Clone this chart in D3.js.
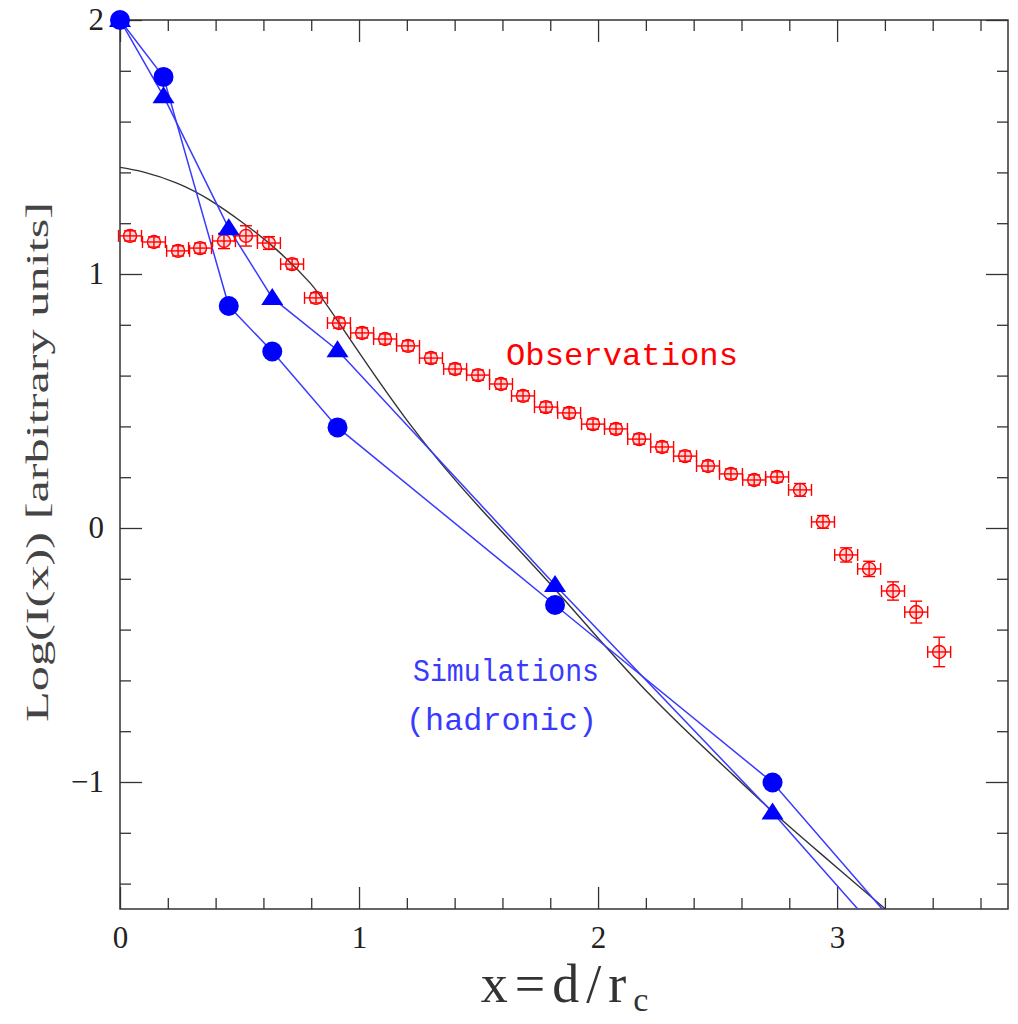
<!DOCTYPE html>
<html>
<head>
<meta charset="utf-8">
<script src="https://cdn.jsdelivr.net/npm/d3@7"></script>
<style>
  body { margin: 0; background: #fff; }
</style>
</head>
<body>
<svg id="chart" width="1018" height="1024"></svg>
<script>
// simulated profiles (hadronic), x in units of r_c
var simX = [0, 0.182, 0.455, 0.637, 0.91, 1.82, 2.73, 3.64];
var simCircleY = [2.0, 1.776, 0.874, 0.695, 0.396, -0.303, -1.002, -1.99];
var simTriangleY = [2.0, 1.70, 1.18, 0.906, 0.70, -0.224, -1.12, -2.09];

// observed profile with error bars
var obsX = [0.042, 0.142, 0.243, 0.335, 0.435, 0.527, 0.623, 0.720, 0.820, 0.916,
            1.013, 1.109, 1.205, 1.301, 1.402, 1.498, 1.594, 1.686, 1.782, 1.879,
            1.979, 2.075, 2.172, 2.268, 2.364, 2.460, 2.556, 2.653, 2.749, 2.845,
            2.941, 3.038, 3.134, 3.234, 3.331, 3.427];
var obsY = [1.150, 1.126, 1.091, 1.102, 1.130, 1.150, 1.122, 1.039, 0.906, 0.807,
            0.768, 0.744, 0.717, 0.669, 0.626, 0.602, 0.567, 0.520, 0.476, 0.453,
            0.409, 0.390, 0.350, 0.319, 0.283, 0.244, 0.213, 0.189, 0.201, 0.150,
            0.024, -0.106, -0.161, -0.248, -0.331, -0.488];
var obsYErr = [0.02, 0.02, 0.02, 0.02, 0.03, 0.04, 0.025, 0.02, 0.02, 0.02,
               0.02, 0.02, 0.02, 0.02, 0.02, 0.02, 0.02, 0.02, 0.02, 0.02,
               0.02, 0.02, 0.02, 0.02, 0.02, 0.02, 0.02, 0.02, 0.02, 0.025,
               0.025, 0.028, 0.03, 0.036, 0.043, 0.058];
var obsXErr = 0.048;

// model curve
var modelX = [0.0, 0.096, 0.238, 0.376, 0.515, 0.657, 0.795, 0.916, 1.2,
              1.506, 1.828, 2.205, 2.565, 2.732, 2.929, 3.197, 3.30];
var modelY = [1.42, 1.402, 1.358, 1.291, 1.201, 1.094, 0.965, 0.808, 0.425,
              0.079, -0.25, -0.645, -0.972, -1.118, -1.280, -1.496, -1.58];

var xMajor = [0, 1, 2, 3];
var xMinor = [0.2, 0.4, 0.6, 0.8, 1.2, 1.4, 1.6, 1.8, 2.2, 2.4, 2.6, 2.8, 3.2, 3.4, 3.6];
var yMajor = [-1, 0, 1, 2];
var yMinor = [-1.4, -1.2, -0.8, -0.6, -0.4, -0.2, 0.2, 0.4, 0.6, 0.8, 1.2, 1.4, 1.6, 1.8];

var svg = d3.select("#chart");
var mL = 120, mR = 1008, mT = 20, mB = 909;

var x = d3.scaleLinear().domain([0, 3.715]).range([mL, mR]);
var y = d3.scaleLinear().domain([-1.5, 2]).range([mB, mT]);

svg.append("defs").append("clipPath").attr("id", "plotclip")
  .append("rect")
  .attr("x", mL).attr("y", mT)
  .attr("width", mR - mL).attr("height", mB - mT);

// axes: ticks point inward on all four sides
function addAxis(axis, transform, labels) {
  var g = svg.append("g").attr("transform", transform).call(axis);
  g.select(".domain").remove();
  g.selectAll("line").attr("stroke", "#333").attr("stroke-width", 1.3);
  g.attr("font-family", "'Liberation Serif', 'DejaVu Serif', serif").attr("font-size", 31);
  g.selectAll("text").attr("fill", "#222");
  if (!labels) g.selectAll("text").remove();
  return g;
}

addAxis(d3.axisBottom(x).tickValues(xMajor).tickSize(-22).tickPadding(17).tickFormat(d3.format("d")),
        "translate(0," + mB + ")", true);
addAxis(d3.axisBottom(x).tickValues(xMinor).tickSize(-11).tickFormat(""), "translate(0," + mB + ")", false);
addAxis(d3.axisTop(x).tickValues(xMajor).tickSize(-22).tickFormat(""), "translate(0," + mT + ")", false);
addAxis(d3.axisTop(x).tickValues(xMinor).tickSize(-11).tickFormat(""), "translate(0," + mT + ")", false);
addAxis(d3.axisLeft(y).tickValues(yMajor).tickSize(-22).tickPadding(16).tickFormat(d3.format("d")),
        "translate(" + mL + ",0)", true);
addAxis(d3.axisLeft(y).tickValues(yMinor).tickSize(-11).tickFormat(""), "translate(" + mL + ",0)", false);
addAxis(d3.axisRight(y).tickValues(yMajor).tickSize(-22).tickFormat(""), "translate(" + mR + ",0)", false);
addAxis(d3.axisRight(y).tickValues(yMinor).tickSize(-11).tickFormat(""), "translate(" + mR + ",0)", false);

svg.append("rect")
  .attr("x", mL).attr("y", mT)
  .attr("width", mR - mL).attr("height", mB - mT)
  .attr("fill", "none")
  .attr("stroke", "#333")
  .attr("stroke-width", 1.5);

var plot = svg.append("g").attr("clip-path", "url(#plotclip)");

// model curve
var modelData = modelX.map(function(d, i) { return [d, modelY[i]]; });
plot.append("path")
  .datum(modelData)
  .attr("fill", "none")
  .attr("stroke", "#333")
  .attr("stroke-width", 1.4)
  .attr("d", d3.line().x(d => x(d[0])).y(d => y(d[1])).curve(d3.curveNatural));

// simulation lines
var simLine = d3.line().x(d => x(d[0])).y(d => y(d[1]));
var circData = simX.map(function(d, i) { return [d, simCircleY[i]]; });
var triData = simX.map(function(d, i) { return [d, simTriangleY[i]]; });

[circData, triData].forEach(function(data) {
  plot.append("path")
    .datum(data)
    .attr("fill", "none")
    .attr("stroke", "#3a3aff")
    .attr("stroke-width", 1.5)
    .attr("d", simLine);
});

// observations: error bars + open circles
var obs = obsX.map(function(d, i) {
  return { x: d, y: obsY[i], ey: obsYErr[i] };
});
var red = "#ff0000";
var og = svg.append("g").selectAll("g").data(obs).enter().append("g");
og.append("line")
  .attr("x1", d => x(d.x - obsXErr)).attr("x2", d => x(d.x + obsXErr))
  .attr("y1", d => y(d.y)).attr("y2", d => y(d.y));
og.append("line")
  .attr("x1", d => x(d.x - obsXErr)).attr("x2", d => x(d.x - obsXErr))
  .attr("y1", d => y(d.y) - 6).attr("y2", d => y(d.y) + 6);
og.append("line")
  .attr("x1", d => x(d.x + obsXErr)).attr("x2", d => x(d.x + obsXErr))
  .attr("y1", d => y(d.y) - 6).attr("y2", d => y(d.y) + 6);
og.append("line")
  .attr("x1", d => x(d.x)).attr("x2", d => x(d.x))
  .attr("y1", d => y(d.y + d.ey)).attr("y2", d => y(d.y - d.ey));
og.append("line")
  .attr("x1", d => x(d.x) - 6).attr("x2", d => x(d.x) + 6)
  .attr("y1", d => y(d.y + d.ey)).attr("y2", d => y(d.y + d.ey));
og.append("line")
  .attr("x1", d => x(d.x) - 6).attr("x2", d => x(d.x) + 6)
  .attr("y1", d => y(d.y - d.ey)).attr("y2", d => y(d.y - d.ey));
og.selectAll("line").attr("stroke", red).attr("stroke-width", 1.4);
og.append("circle")
  .attr("cx", d => x(d.x)).attr("cy", d => y(d.y))
  .attr("r", 6.5)
  .attr("fill", "rgba(255,0,0,0.15)")
  .attr("stroke", red)
  .attr("stroke-width", 1.4);

// simulation markers (drawn on top, not clipped)
svg.append("g").selectAll("circle")
  .data(circData.filter(d => y(d[1]) <= mB))
  .enter().append("circle")
  .attr("cx", d => x(d[0])).attr("cy", d => y(d[1]))
  .attr("r", 10)
  .attr("fill", "#0000ff");

svg.append("g").selectAll("path")
  .data(triData.filter(d => y(d[1]) <= mB))
  .enter().append("path")
  .attr("transform", d => "translate(" + x(d[0]) + "," + y(d[1]) + ")")
  .attr("d", "M0,-10L11,7L-11,7Z")
  .attr("fill", "#0000ff");

// annotations
var mono = "'Liberation Mono', 'DejaVu Sans Mono', monospace";
svg.append("text")
  .attr("x", 506).attr("y", 365)
  .attr("font-family", mono).attr("font-size", 32)
  .attr("textLength", 232).attr("lengthAdjust", "spacingAndGlyphs")
  .attr("fill", red)
  .text("Observations");
svg.append("text")
  .attr("x", 413).attr("y", 681)
  .attr("font-family", mono).attr("font-size", 31)
  .attr("textLength", 186).attr("lengthAdjust", "spacingAndGlyphs")
  .attr("fill", "#3a3aff")
  .text("Simulations");
svg.append("text")
  .attr("x", 406).attr("y", 730)
  .attr("font-family", mono).attr("font-size", 31)
  .attr("textLength", 191).attr("lengthAdjust", "spacingAndGlyphs")
  .attr("fill", "#3a3aff")
  .text("(hadronic)");

// axis titles
var serif = "'Liberation Serif', 'DejaVu Serif', serif";
svg.append("text")
  .attr("transform", "translate(48,462) rotate(-90)")
  .attr("text-anchor", "middle")
  .attr("font-family", serif).attr("font-size", 32)
  .attr("textLength", 520).attr("lengthAdjust", "spacingAndGlyphs")
  .attr("fill", "#444")
  .text("Log(I(x)) [arbitrary units]");

var xl = svg.append("text")
  .attr("x", 568).attr("y", 1002)
  .attr("text-anchor", "middle")
  .attr("font-family", serif).attr("font-size", 54)
  .attr("letter-spacing", 7)
  .attr("fill", "#333");
xl.append("tspan").text("x=d/r");
xl.append("tspan").attr("dy", 9).attr("font-size", 34).text("c");
</script>
</body>
</html>
